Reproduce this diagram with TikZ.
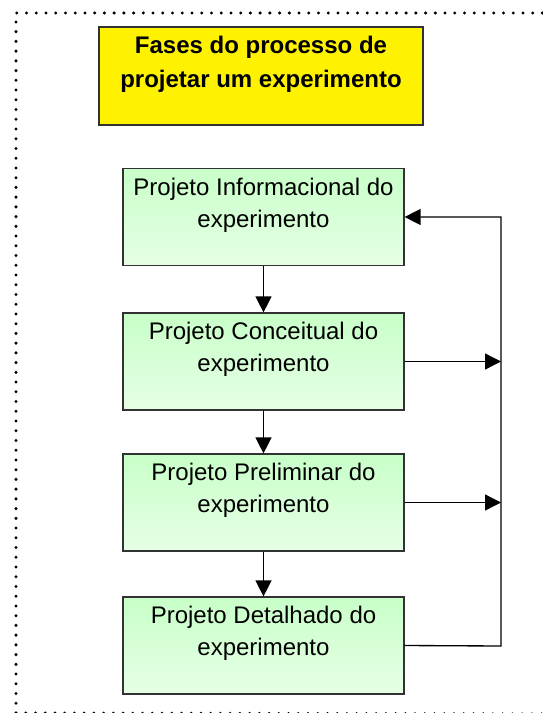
\documentclass[tikz,border=0pt]{standalone}
\usepackage{fontspec}
\setmainfont{Liberation Sans}
\usetikzlibrary{arrows.meta}
\definecolor{gtop}{RGB}{200,255,200}
\definecolor{gbot}{RGB}{230,255,230}
\definecolor{edge}{RGB}{50,50,50}
\begin{document}
\begin{tikzpicture}[x=0.75pt,y=-0.75pt,
  frame/.style={line width=2.5pt,line cap=round,dash pattern=on 0pt off 7.3pt},
  gbox/.style={draw=edge,line width=0.9pt,top color=gtop,bottom color=gbot,minimum width=210.75pt,minimum height=72.75pt,inner sep=0pt},
  ybox/.style={draw=edge,line width=1pt,fill=yellow,minimum width=243pt,minimum height=73.5pt,inner sep=0pt},
  gtext/.style={anchor=north,inner sep=0pt,align=center,font=\fontsize{18}{24}\selectfont,yshift=-7.4pt},
  ttext/.style={anchor=north,inner sep=0pt,align=center,font=\fontsize{18}{25.5}\selectfont\bfseries,yshift=-7.4pt},
  conn/.style={line width=1pt,-{Triangle[length=12pt,width=12pt]}}]
\useasboundingbox (0,0) rectangle (542,713);
% dotted frame
\coordinate (f1) at (16,713);
\coordinate (f2) at (16,13);
\coordinate (f3) at (560,13);
\coordinate (f4) at (560,714);
\draw[frame] (f1) -- (f2) -- (f3);
\draw[frame] (f1) -- (f4);
% title
\node[ybox] (title) at (261,76) {};
\node[ttext] (titletxt) at (title.north) {Fases do processo de\\projetar um experimento};
% boxes
\node[gbox] (b1) at (263.5,217) {};
\node[gtext] (t1) at (b1.north) {Projeto Informacional do\\experimento};
\node[gbox] (b2) at (263.5,361.5) {};
\node[gtext] (t2) at (b2.north) {Projeto Conceitual do\\experimento};
\node[gbox] (b3) at (263.5,502.5) {};
\node[gtext] (t3) at (b3.north) {Projeto Preliminar do\\experimento};
\node[gbox] (b4) at (263.5,645.5) {};
\node[gtext] (t4) at (b4.north) {Projeto Detalhado do\\experimento};
% connectors
\draw[conn] (b1) -- (b2);
\draw[conn] (b2) -- (b3);
\draw[conn] (b3) -- (b4);
\coordinate (rx) at (501,646);
\draw[conn] (b4.east) -- (rx) |- (b1.east);
\draw[conn] (b2.east) -- (b2.east -| rx);
\draw[conn] (b3.east) -- (b3.east -| rx);
\end{tikzpicture}
\end{document}
